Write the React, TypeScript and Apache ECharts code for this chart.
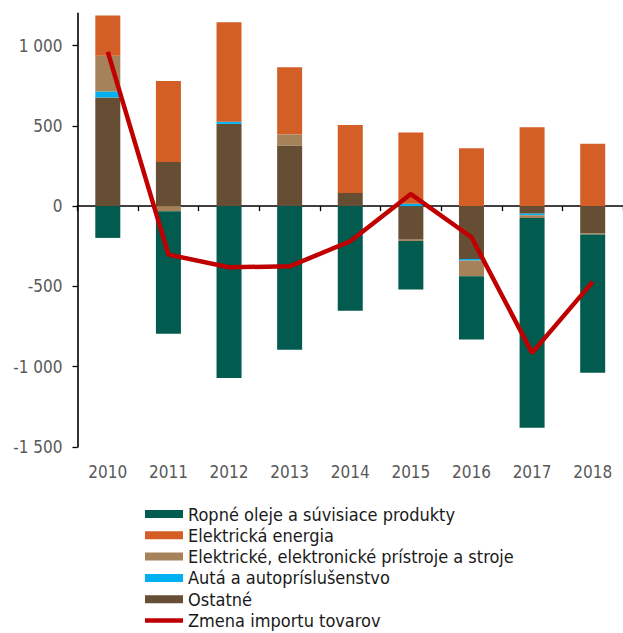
import React, { useEffect, useRef } from "react";
import * as echarts from "echarts";

const years = ["2010", "2011", "2012", "2013", "2014", "2015", "2016", "2017", "2018"];
const ropneOleje = [-198, -763, -1070, -895, -651, -302, -394, -1306, -861];
const elektrickaEnergia = [251, 504, 619, 417, 423, 443, 360, 491, 389];
const pristroje = [222, -32, 0, 70, 0, -8, -98, -17, -6];
const auta = [37, 0, 14, 0, 0, 15, -10, -10, 0];
const ostatne = [677, 275, 512, 377, 82, -209, -329, -47, -171];
const zmenaImportu = [960, -302, -381, -375, -219, 75, -194, -914, -472];
const yTicks = [-1500, -1000, -500, 0, 500, 1000];

const names = {
  ropne: "Ropné oleje a súvisiace produkty",
  energia: "Elektrická energia",
  pristroje: "Elektrické, elektronické prístroje a stroje",
  auta: "Autá a autopríslušenstvo",
  ostatne: "Ostatné",
  zmena: "Zmena importu tovarov",
};

const FONT = "'DejaVu Sans Condensed', 'DejaVu Sans', sans-serif";

function fmt(v: number) {
  const s = String(Math.abs(v)).replace(/\B(?=(\d{3})+(?!\d))/g, " ");
  return (v < 0 ? "-" : "") + s;
}

export default function App() {
  const ref = useRef<HTMLDivElement>(null);
  useEffect(() => {
    if (!ref.current) return;
    const chart = echarts.init(ref.current, undefined, { renderer: "svg" });
    const bar = (name: string, data: number[], color: string) => ({
      name,
      type: "bar",
      stack: "total",
      data,
      barWidth: 25,
      itemStyle: { color },
      xAxisIndex: 0,
      yAxisIndex: 0,
    });
    chart.setOption({
      animation: false,
      grid: { left: 77.5, right: -5, top: 13.4, bottom: 186 },
      legend: {
        orient: "vertical",
        left: 145,
        top: 504,
        height: 160,
        padding: 0,
        itemWidth: 38,
        itemHeight: 8,
        itemGap: 1.3,
        textStyle: { fontFamily: FONT, fontSize: 18, lineHeight: 20, color: "#1a1a1a" },
        data: [
          { name: names.ropne, icon: "rect" },
          { name: names.energia, icon: "rect" },
          { name: names.pristroje, icon: "rect" },
          { name: names.auta, icon: "rect" },
          { name: names.ostatne, icon: "rect" },
          { name: names.zmena, icon: "path://M0,0H40V4.6H0Z" },
        ],
      },
      xAxis: [
        {
          type: "category",
          data: years,
          position: "bottom",
          axisLine: { show: false, onZero: false },
          axisTick: { show: false },
          axisLabel: { margin: 16, color: "#595959", fontFamily: FONT, fontSize: 17 },
        },
        {
          type: "category",
          data: years,
          position: "bottom",
          axisLine: { show: true, onZero: true, onZeroAxisIndex: 0, lineStyle: { color: "#000", width: 1.6 } },
          axisTick: { show: true, length: 5, lineStyle: { color: "#000", width: 1.3 } },
          axisLabel: { show: false },
        },
      ],
      yAxis: {
        type: "value",
        min: -1500,
        max: 1200,
        interval: 500,
        splitLine: { show: false },
        axisLine: { show: true, lineStyle: { color: "#000", width: 1.6 } },
        axisTick: { show: true, length: 5, customValues: yTicks, lineStyle: { color: "#000", width: 1.3 } },
        axisLabel: {
          customValues: yTicks,
          margin: 15,
          color: "#595959",
          fontFamily: FONT,
          fontSize: 17,
          formatter: (v: number) => fmt(v),
        },
      },
      series: [
        bar(names.ostatne, ostatne, "#654E33"),
        bar(names.auta, auta, "#00B0F0"),
        bar(names.pristroje, pristroje, "#A6825A"),
        bar(names.energia, elektrickaEnergia, "#D35F26"),
        bar(names.ropne, ropneOleje, "#025B4F"),
        {
          name: names.zmena,
          type: "line",
          data: zmenaImportu,
          symbol: "none",
          showSymbol: false,
          lineStyle: { color: "#C00000", width: 4.5 },
          itemStyle: { color: "#C00000" },
          z: 10,
        },
      ],
    });
    return () => chart.dispose();
  }, []);
  return (
    <div
      ref={ref}
      style={{ position: "absolute", left: 0, top: 0, width: 623, height: 633, background: "#fff" }}
    />
  );
}
